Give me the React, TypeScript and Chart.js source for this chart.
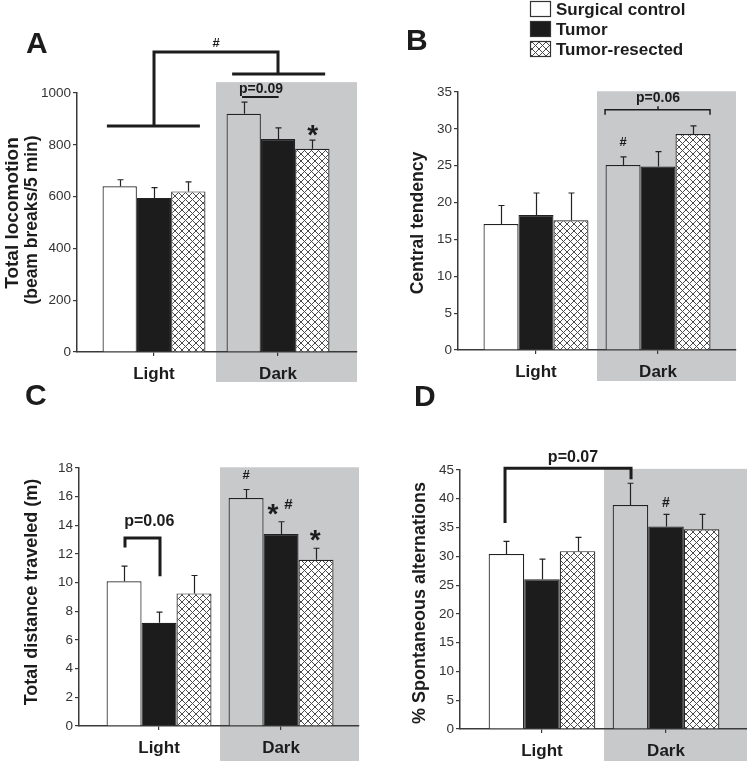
import React, { useEffect, useRef } from "react";
import { Chart, registerables } from "chart.js";
Chart.register(...registerables);

// ---------- data ----------
const SERIES = ["Surgical control", "Tumor", "Tumor-resected"];
const PHASES = ["Light", "Dark"];

// Panel A: Total locomotion (beam breaks/5 min)
const A_control = [640, 920];
const A_tumor = [595, 822];
const A_resected = [620, 785];
const A_control_sem = [25, 45];
const A_tumor_sem = [40, 43];
const A_resected_sem = [37, 33];
const A_yTicks = [0, 200, 400, 600, 800, 1000];

// Panel B: Central tendency
const B_control = [17.1, 25.1];
const B_tumor = [18.3, 24.9];
const B_resected = [17.6, 29.3];
const B_control_sem = [2.5, 1.1];
const B_tumor_sem = [3.0, 2.0];
const B_resected_sem = [3.7, 1.1];
const B_yTicks = [0, 5, 10, 15, 20, 25, 30, 35];

// Panel C: Total distance traveled (m)
const C_control = [10.1, 15.9];
const C_tumor = [7.2, 13.4];
const C_resected = [9.25, 11.6];
const C_control_sem = [1.05, 0.6];
const C_tumor_sem = [0.75, 0.85];
const C_resected_sem = [1.25, 0.8];
const C_yTicks = [0, 2, 4, 6, 8, 10, 12, 14, 16, 18];

// Panel D: % Spontaneous alternations
const D_control = [30.4, 38.9];
const D_tumor = [26.0, 35.2];
const D_resected = [30.9, 34.7];
const D_control_sem = [2.2, 3.8];
const D_tumor_sem = [3.5, 2.1];
const D_resected_sem = [2.4, 2.6];
const D_yTicks = [0, 5, 10, 15, 20, 25, 30, 35, 40, 45];

// ---------- style ----------
const FONT = "'Liberation Sans', Arial, Helvetica, sans-serif";
const INK = "#1c1c1c";
const AXIS = "#3a3a3a";
const SHADE = "#c8c9cb";
const W = 747;
const H = 761;

type Line = { kind: "line"; pts: [number, number][]; w: number };
type Txt = { kind: "text"; x: number; y: number; text: string; size: number; star?: boolean };
type Ann = Line | Txt;

interface Panel {
  letter: string;
  letterPos: [number, number];
  area: { left: number; right: number; top: number; bottom: number };
  xMin: number;
  xMax: number;
  yTicks: number[];
  catPct: number;
  shadeTop: number;
  shadeBottomPx: number;
  titles: { text: string; x: number; y: number; size: number }[];
  values: number[][];
  sems: number[][];
  ann: Ann[];
  legend?: boolean;
}

const PANELS: Panel[] = [
  {
    letter: "A",
    letterPos: [26, 53],
    area: { left: 77, right: 357, top: 93, bottom: 352 },
    xMin: -0.621,
    xMax: 1.637,
    yTicks: A_yTicks,
    catPct: 0.83,
    shadeTop: 1042,
    shadeBottomPx: 382,
    titles: [
      { text: "Total locomotion", x: 13, y: 213, size: 19 },
      { text: "(beam breaks/5 min)", x: 32, y: 220, size: 17.5 },
    ],
    values: [A_control, A_tumor, A_resected],
    sems: [A_control_sem, A_tumor_sem, A_resected_sem],
    ann: [
      { kind: "line", pts: [[-0.38, 873], [0.37, 873]], w: 3 },
      { kind: "line", pts: [[0, 873], [0, 1158], [1, 1158], [1, 1073]], w: 3 },
      { kind: "line", pts: [[0.63, 1073], [1.38, 1073]], w: 3 },
      { kind: "text", x: 0.5, y: 1190, text: "#", size: 13 },
      { kind: "text", x: 0.863, y: 1013, text: "p=0.09", size: 14 },
      { kind: "line", pts: [[0.71, 985], [1.005, 985]], w: 2 },
      { kind: "text", x: 1.28, y: 865, text: "*", size: 28, star: true },
    ],
  },
  {
    letter: "B",
    letterPos: [406, 50],
    area: { left: 458, right: 736, top: 92, bottom: 350 },
    xMin: -0.639,
    xMax: 1.639,
    yTicks: B_yTicks,
    catPct: 0.86,
    shadeTop: 35.1,
    shadeBottomPx: 381,
    titles: [{ text: "Central tendency", x: 418, y: 223, size: 17.6 }],
    values: [B_control, B_tumor, B_resected],
    sems: [B_control_sem, B_tumor_sem, B_resected_sem],
    ann: [
      { kind: "text", x: 0.713, y: 28.1, text: "#", size: 13 },
      { kind: "line", pts: [[0.566, 31.9], [0.566, 32.6], [1.426, 32.6], [1.426, 31.9]], w: 1.5 },
      { kind: "line", pts: [[1, 32.6], [1, 33.05]], w: 1.5 },
      { kind: "text", x: 1.0, y: 34.2, text: "p=0.06", size: 14 },
    ],
    legend: true,
  },
  {
    letter: "C",
    letterPos: [25, 405],
    area: { left: 79, right: 359, top: 468, bottom: 726 },
    xMin: -0.656,
    xMax: 1.639,
    yTicks: C_yTicks,
    catPct: 0.86,
    shadeTop: 18.05,
    shadeBottomPx: 761,
    titles: [{ text: "Total distance traveled (m)", x: 32, y: 592, size: 18 }],
    values: [C_control, C_tumor, C_resected],
    sems: [C_control_sem, C_tumor_sem, C_resected_sem],
    ann: [
      { kind: "line", pts: [[-0.279, 12.45], [-0.279, 13.12], [0.008, 13.12], [0.008, 10.45]], w: 3 },
      { kind: "text", x: -0.08, y: 14.23, text: "p=0.06", size: 16 },
      { kind: "text", x: 0.713, y: 17.45, text: "#", size: 13 },
      { kind: "text", x: 0.934, y: 15.25, text: "*", size: 28, star: true },
      { kind: "text", x: 1.06, y: 15.45, text: "#", size: 15 },
      { kind: "text", x: 1.279, y: 13.45, text: "*", size: 28, star: true },
    ],
  },
  {
    letter: "D",
    letterPos: [414, 406],
    area: { left: 460, right: 747, top: 470, bottom: 729 },
    xMin: -0.661,
    xMax: 1.653,
    yTicks: D_yTicks,
    catPct: 0.86,
    shadeTop: 45.2,
    shadeBottomPx: 761,
    titles: [{ text: "% Spontaneous alternations", x: 420, y: 603, size: 18 }],
    values: [D_control, D_tumor, D_resected],
    sems: [D_control_sem, D_tumor_sem, D_resected_sem],
    ann: [
      { kind: "line", pts: [[-0.298, 35.8], [-0.298, 45.3], [0.718, 45.3], [0.718, 43.4]], w: 3 },
      { kind: "text", x: 0.25, y: 47.1, text: "p=0.07", size: 16 },
      { kind: "text", x: 1.0, y: 39.3, text: "#", size: 14 },
    ],
  },
];

function makeHatch(): CanvasPattern | string {
  const s = 7;
  const c = document.createElement("canvas");
  c.width = s;
  c.height = s;
  const g = c.getContext("2d");
  if (!g) return "#fff";
  g.fillStyle = "#ffffff";
  g.fillRect(0, 0, s, s);
  g.strokeStyle = "#4a4a4a";
  g.lineWidth = 1;
  g.beginPath();
  g.moveTo(-1, -1);
  g.lineTo(s + 1, s + 1);
  g.moveTo(s + 1, -1);
  g.lineTo(-1, s + 1);
  g.stroke();
  return g.createPattern(c, "repeat") || "#fff";
}

function PanelChart({ p }: { p: Panel }) {
  const ref = useRef<HTMLCanvasElement | null>(null);
  useEffect(() => {
    const canvas = ref.current;
    if (!canvas) return;
    const hatch = makeHatch();
    const Y_W = 40;
    const X_H = 32;
    const fills: any[] = [["#ffffff", SHADE], INK, hatch];

    const datasets = SERIES.map((name, i) => ({
      label: name,
      data: p.values[i].map((v, j) => ({ x: j, y: v })),
      backgroundColor: fills[i],
      borderColor: "#222",
      borderWidth: 1.2,
      borderSkipped: "start" as const,
      categoryPercentage: p.catPct,
      barPercentage: 1,
    }));

    const annPlugin = {
      id: "ann",
      beforeDraw(chart: any) {
        const ctx = chart.ctx;
        const xs = chart.scales.x;
        const ys = chart.scales.y;
        const left = xs.getPixelForValue(0.5);
        const top = ys.getPixelForValue(p.shadeTop);
        ctx.save();
        ctx.fillStyle = SHADE;
        ctx.fillRect(left, top, chart.chartArea.right - left, p.shadeBottomPx - top);
        ctx.restore();
      },
      afterDatasetsDraw(chart: any) {
        const ctx = chart.ctx;
        const xs = chart.scales.x;
        const ys = chart.scales.y;
        ctx.save();
        // error bars
        ctx.strokeStyle = "#222";
        ctx.lineWidth = 1.2;
        chart.data.datasets.forEach((_d: any, i: number) => {
          const meta = chart.getDatasetMeta(i);
          meta.data.forEach((el: any, j: number) => {
            const x = Math.round(el.x) + 0.5;
            const yTop = ys.getPixelForValue(p.values[i][j] + p.sems[i][j]);
            ctx.beginPath();
            ctx.moveTo(x, el.y);
            ctx.lineTo(x, yTop);
            ctx.moveTo(x - 3, yTop);
            ctx.lineTo(x + 3, yTop);
            ctx.stroke();
          });
        });
        // annotations
        ctx.fillStyle = INK;
        ctx.strokeStyle = INK;
        ctx.lineCap = "butt";
        ctx.lineJoin = "miter";
        p.ann.forEach((a) => {
          if (a.kind === "line") {
            ctx.lineWidth = a.w;
            ctx.beginPath();
            a.pts.forEach(([vx, vy], k) => {
              const px = xs.getPixelForValue(vx);
              const py = ys.getPixelForValue(vy);
              if (k === 0) ctx.moveTo(px, py);
              else ctx.lineTo(px, py);
            });
            ctx.stroke();
          } else {
            ctx.font = `bold ${a.size}px ${FONT}`;
            ctx.textAlign = "center";
            const px = xs.getPixelForValue(a.x);
            const py = ys.getPixelForValue(a.y);
            if (a.star) {
              ctx.textBaseline = "alphabetic";
              ctx.fillText(a.text, px, py + a.size * 0.57);
            } else {
              ctx.textBaseline = "middle";
              ctx.fillText(a.text, px, py);
            }
          }
        });
        // axis titles
        ctx.textAlign = "center";
        ctx.textBaseline = "middle";
        p.titles.forEach((t) => {
          ctx.save();
          ctx.font = `bold ${t.size}px ${FONT}`;
          ctx.translate(t.x, t.y);
          ctx.rotate(-Math.PI / 2);
          ctx.fillText(t.text, 0, 0);
          ctx.restore();
        });
        // panel letter
        ctx.font = `bold 30px ${FONT}`;
        ctx.textAlign = "left";
        ctx.textBaseline = "alphabetic";
        ctx.fillText(p.letter, p.letterPos[0], p.letterPos[1]);
        // legend
        if (p.legend) {
          const boxX = 530;
          const rows = [1, 21, 41];
          ctx.font = `bold 17px ${FONT}`;
          ctx.textBaseline = "middle";
          SERIES.forEach((name, i) => {
            const y = rows[i];
            ctx.fillStyle = i === 0 ? "#fff" : i === 1 ? INK : (hatch as any);
            ctx.fillRect(boxX, y, 21, 16);
            ctx.strokeStyle = "#333";
            ctx.lineWidth = 1.2;
            ctx.strokeRect(boxX + 0.5, y + 0.5, 20, 15);
            ctx.fillStyle = INK;
            ctx.fillText(name, 556, y + 9);
          });
        }
        ctx.restore();
      },
    };

    const chart = new Chart(canvas, {
      type: "bar",
      data: { datasets: datasets as any },
      options: {
        responsive: false,
        animation: false,
        events: [],
        layout: {
          padding: {
            left: p.area.left - Y_W,
            right: W - p.area.right,
            top: p.area.top,
            bottom: H - p.area.bottom - X_H,
          },
        },
        plugins: { legend: { display: false }, tooltip: { enabled: false } },
        scales: {
          x: {
            type: "linear",
            min: p.xMin,
            max: p.xMax,
            offset: false,
            afterBuildTicks: (s: any) => {
              s.ticks = PHASES.map((_l, i) => ({ value: i }));
            },
            afterFit: (s: any) => {
              s.height = X_H;
            },
            grid: {
              display: true,
              drawOnChartArea: false,
              drawTicks: true,
              tickLength: 4,
              color: AXIS,
              lineWidth: 1.2,
              offset: false,
            },
            border: { display: true, color: AXIS, width: 1.5 },
            ticks: {
              autoSkip: false,
              maxRotation: 0,
              padding: 8,
              color: INK,
              font: { family: FONT, size: 17, weight: "bold" },
              callback: (v: any) => PHASES[Math.round(Number(v))] ?? "",
            },
          },
          y: {
            type: "linear",
            min: 0,
            max: p.yTicks[p.yTicks.length - 1],
            afterBuildTicks: (s: any) => {
              s.ticks = p.yTicks.map((v) => ({ value: v }));
            },
            afterFit: (s: any) => {
              s.width = Y_W;
            },
            grid: {
              display: true,
              drawOnChartArea: false,
              drawTicks: true,
              tickLength: 4,
              color: AXIS,
              lineWidth: 1.2,
            },
            border: { display: true, color: AXIS, width: 1.5 },
            ticks: {
              padding: 2,
              color: "#333",
              font: { family: FONT, size: 13.5 },
              callback: (v: any) => String(v),
            },
          },
        },
      },
      plugins: [annPlugin],
    });
    return () => chart.destroy();
  }, [p]);
  return (
    <canvas
      ref={ref}
      width={W}
      height={H}
      style={{ position: "absolute", left: 0, top: 0, width: W, height: H, pointerEvents: "none" }}
    />
  );
}

export default function App() {
  return (
    <div style={{ position: "absolute", left: 0, top: 0, width: W, height: H, background: "#fff", overflow: "hidden" }}>
      {PANELS.map((p) => (
        <PanelChart key={p.letter} p={p} />
      ))}
    </div>
  );
}
